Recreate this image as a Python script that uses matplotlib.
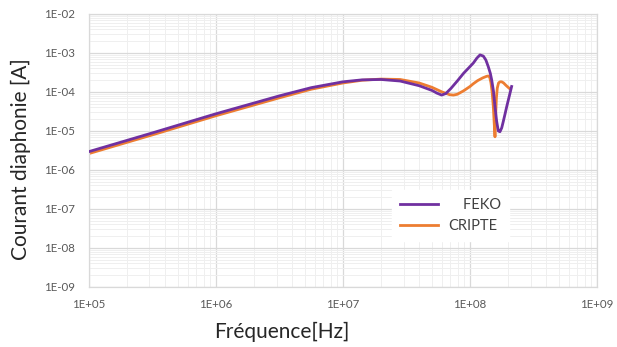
import matplotlib
matplotlib.use("Agg")
import matplotlib.pyplot as plt
from matplotlib.ticker import LogLocator, FuncFormatter, NullFormatter
import numpy as np

# Data (log10 of frequency [Hz] and log10 of current [A])
feko_logf = [5.0, 5.5, 6.0, 6.5, 6.75, 7.0, 7.15, 7.3, 7.45, 7.6, 7.7, 7.74, 7.777,
             7.81, 7.85, 7.9, 7.95, 8.0, 8.026, 8.055, 8.079, 8.105, 8.125, 8.144,
             8.16, 8.171, 8.185, 8.197, 8.21, 8.223, 8.236, 8.25, 8.262, 8.275,
             8.289, 8.31, 8.328]
feko_logi = [-5.53, -5.05, -4.56, -4.10, -3.89, -3.74, -3.69, -3.68, -3.72, -3.84, -3.96,
             -4.03, -4.08, -4.04, -3.91, -3.72, -3.52, -3.35, -3.26, -3.13, -3.05, -3.08,
             -3.18, -3.35, -3.52, -3.69, -3.98, -4.38, -4.75, -5.00, -5.02, -4.92, -4.76,
             -4.58, -4.38, -4.10, -3.86]

cripte_logf = [5.0, 5.5, 6.0, 6.5, 6.75, 7.0, 7.15, 7.3, 7.45, 7.6, 7.7, 7.78, 7.84,
               7.87, 7.9, 7.95, 8.0, 8.026, 8.06, 8.1, 8.13, 8.144, 8.155, 8.165,
               8.175, 8.184, 8.19, 8.197, 8.202, 8.208, 8.215, 8.225, 8.236, 8.25,
               8.265, 8.28, 8.3, 8.315]
cripte_logi = [-5.58, -5.10, -4.61, -4.15, -3.93, -3.77, -3.70, -3.67, -3.68, -3.77, -3.88,
               -4.00, -4.07, -4.08, -4.06, -3.97, -3.86, -3.79, -3.71, -3.64, -3.60, -3.59,
               -3.62, -3.76, -4.02, -4.38, -4.75, -5.15, -4.60, -4.15, -3.90, -3.77, -3.74,
               -3.74, -3.77, -3.82, -3.88, -3.92]

x_ticks = [1e5, 1e6, 1e7, 1e8, 1e9]
y_ticks = [1e-9, 1e-8, 1e-7, 1e-6, 1e-5, 1e-4, 1e-3, 1e-2]
series_labels = ["    FEKO", "CRIPTE"]
x_label = "Fréquence[Hz]"
y_label = "Courant diaphonie [A]"

plt.rcParams['font.family'] = ['Lato', 'DejaVu Sans']

fig = plt.figure(figsize=(6.17, 3.47), dpi=100)
ax = fig.add_axes([0.144, 0.173, 0.8236, 0.7868])

ax.plot(10 ** np.array(feko_logf), 10 ** np.array(feko_logi), color="#7030A0", lw=2.0,
        label=series_labels[0], zorder=3, solid_joinstyle="round")
ax.plot(10 ** np.array(cripte_logf), 10 ** np.array(cripte_logi), color="#ED7D31", lw=2.0,
        label=series_labels[1], zorder=2, solid_joinstyle="round")

ax.set_xscale("log")
ax.set_yscale("log")
ax.set_xlim(x_ticks[0], x_ticks[-1])
ax.set_ylim(y_ticks[0], y_ticks[-1])
ax.set_xticks(x_ticks)
ax.set_yticks(y_ticks)

def sci(v, pos):
    e = int(round(np.log10(v)))
    return "1E%s%02d" % ("+" if e >= 0 else "-", abs(e))

ax.xaxis.set_major_formatter(FuncFormatter(sci))
ax.yaxis.set_major_formatter(FuncFormatter(sci))
ax.xaxis.set_minor_locator(LogLocator(base=10, subs=np.arange(2, 10), numticks=50))
ax.yaxis.set_minor_locator(LogLocator(base=10, subs=np.arange(2, 10), numticks=50))
ax.xaxis.set_minor_formatter(NullFormatter())
ax.yaxis.set_minor_formatter(NullFormatter())

ax.grid(which="major", color="#d9d9d9", lw=0.9)
ax.grid(which="minor", color="#efefef", lw=0.7)
ax.set_axisbelow(True)
ax.tick_params(which="both", length=0, labelsize=8.3, labelcolor="#595959")
ax.tick_params(axis="x", pad=9)
ax.tick_params(axis="y", pad=10)
for s in ax.spines.values():
    s.set_color("#d9d9d9")
    s.set_linewidth(0.9)

ax.set_xlabel(x_label, fontsize=15, color="#262626")
ax.set_ylabel(y_label, fontsize=15, color="#262626")
ax.xaxis.set_label_coords(0.38, -0.128)
ax.yaxis.set_label_coords(-0.113, 0.469)

leg = ax.legend(loc="upper left", bbox_to_anchor=(0.583, 0.381), frameon=True,
                fontsize=10.5, handlelength=2.6, handletextpad=0.65, borderpad=0.55,
                labelspacing=0.45, fancybox=False, edgecolor="white", framealpha=1)
for t in leg.get_texts():
    t.set_color("#404040")

fig.savefig("out.png", dpi=100, facecolor="white")
